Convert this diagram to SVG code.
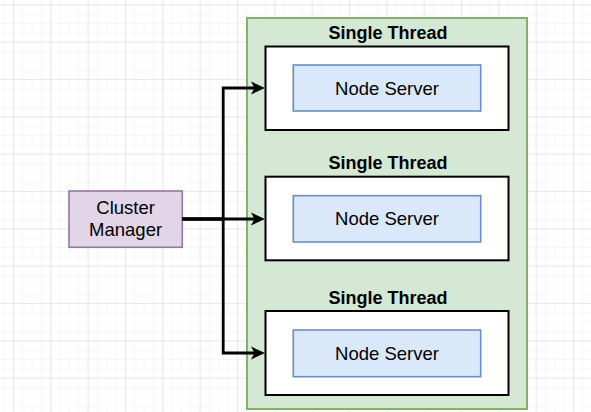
<svg xmlns="http://www.w3.org/2000/svg" width="591" height="412" viewBox="0 0 591 412">
  <style>
    .lbl { font-family: "Liberation Sans", Arial, Helvetica, sans-serif; fill: #000; text-anchor: middle; }
    .title { font-size: 18px; font-weight: bold; }
    .node { font-size: 18.5px; }
    .thread { fill: #ffffff; stroke: #000000; stroke-width: 2; }
    .server { fill: #dae8fc; stroke: #6c8ebf; stroke-width: 1.6; }
    .edge { fill: none; stroke: #000000; stroke-width: 2.8; }
  </style>
  <defs>
    <pattern id="minor" patternUnits="userSpaceOnUse" x="3.67" y="4.33" width="9.333" height="9.333">
      <path d="M0,0.5 H9.333 M0.5,0 V9.333" stroke="#f7f7f7" stroke-width="1" fill="none"/>
    </pattern>
    <pattern id="major" patternUnits="userSpaceOnUse" x="13" y="4.33" width="37.333" height="37.333">
      <path d="M0,0.5 H37.333 M0.5,0 V37.333" stroke="#eaeaea" stroke-width="1" fill="none"/>
    </pattern>
    <marker id="arrow" markerUnits="userSpaceOnUse" markerWidth="16" markerHeight="14" refX="5" refY="7" orient="auto">
      <path d="M14,7 L0,0.5 L3.5,7 L0,13.5 Z" fill="#000000"/>
    </marker>
  </defs>
  <rect width="591" height="412" fill="#ffffff"/>
  <rect width="591" height="412" fill="url(#minor)"/>
  <rect width="591" height="412" fill="url(#major)"/>

  <g id="container">
    <rect x="247" y="18" width="280" height="391" fill="#d5e8d4" stroke="#82b366" stroke-width="2"/>
  </g>

  <g id="thread1">
    <text class="lbl title" x="388" y="39.3">Single Thread</text>
    <rect class="thread" x="265.5" y="46.5" width="243" height="83.5"/>
  </g>
  <g id="server1">
    <rect class="server" x="293.3" y="65" width="187.4" height="46"/>
    <text class="lbl node" x="387" y="94.5">Node Server</text>
  </g>

  <g id="thread2">
    <text class="lbl title" x="388" y="169.3">Single Thread</text>
    <rect class="thread" x="265.5" y="176.7" width="243" height="83.6"/>
  </g>
  <g id="server2">
    <rect class="server" x="293.3" y="195.7" width="187.4" height="46.3"/>
    <text class="lbl node" x="387" y="225">Node Server</text>
  </g>

  <g id="thread3">
    <text class="lbl title" x="388" y="304">Single Thread</text>
    <rect class="thread" x="265.5" y="311" width="243" height="84"/>
  </g>
  <g id="server3">
    <rect class="server" x="293.3" y="330" width="187.4" height="46.7"/>
    <text class="lbl node" x="387" y="359.5">Node Server</text>
  </g>

  <g id="cluster-manager">
    <rect x="69" y="191" width="113.3" height="56.3" fill="#e1d5e7" stroke="#9673a6" stroke-width="1.6"/>
    <text class="lbl node" x="125.6" y="214.3">Cluster</text>
    <text class="lbl node" x="125.6" y="235.6">Manager</text>
  </g>

  <g id="connectors">
    <path class="edge" d="M182.3,219 H256" marker-end="url(#arrow)"/>
    <path class="edge" d="M182.3,219 H223.2 V88 H256" marker-end="url(#arrow)"/>
    <path class="edge" d="M182.3,219 H223.2 V353 H256" marker-end="url(#arrow)"/>
  </g>
</svg>
